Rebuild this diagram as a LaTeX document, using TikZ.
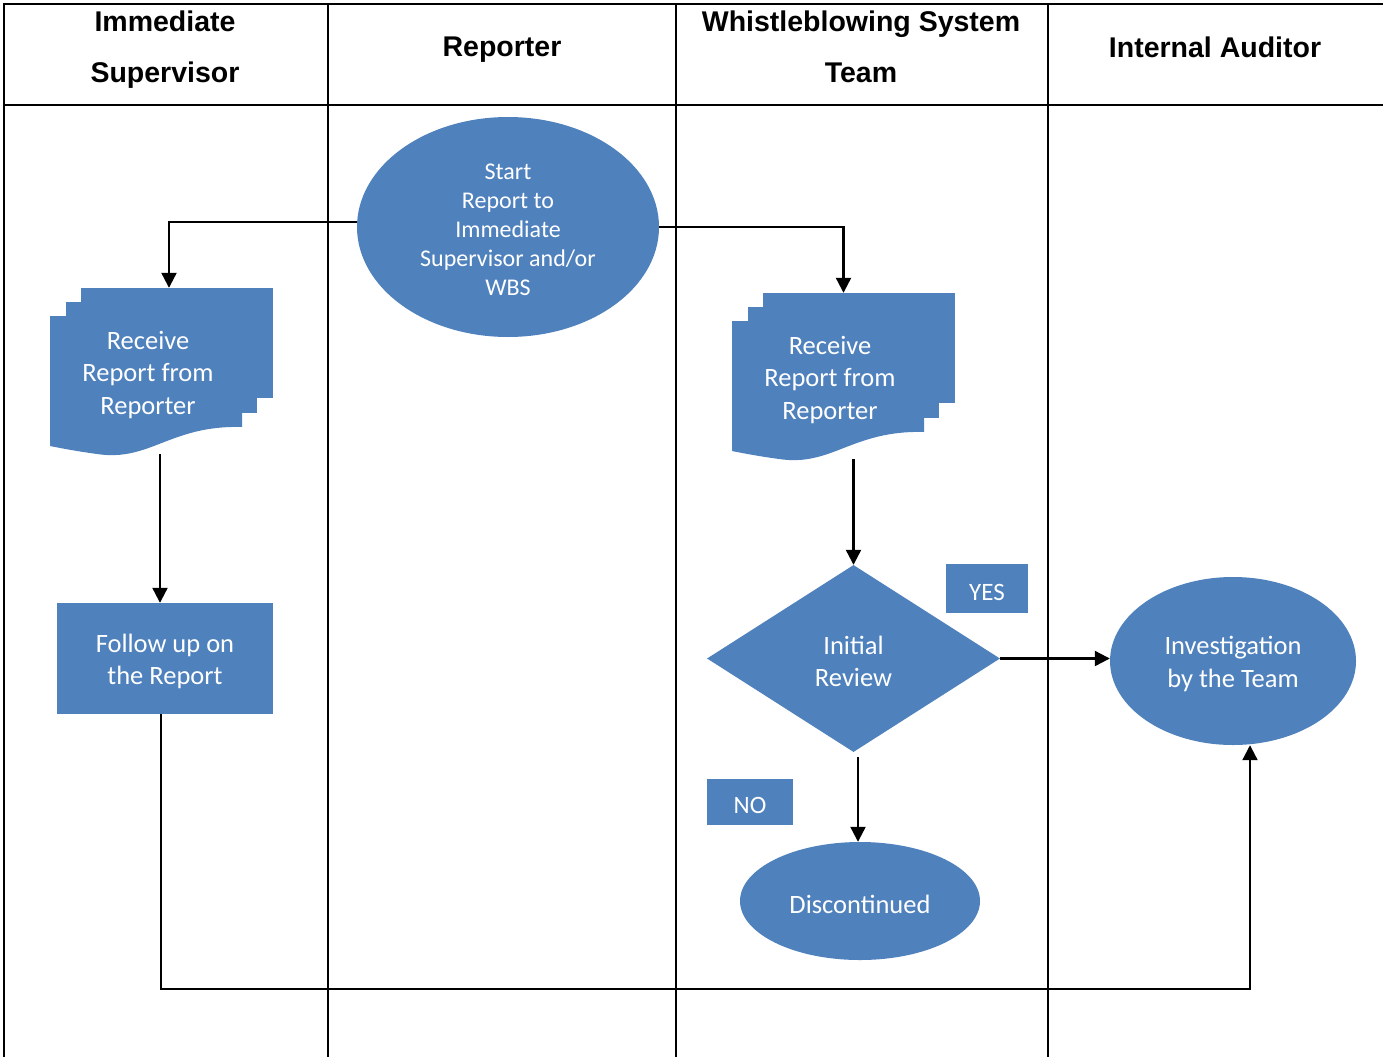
\documentclass[tikz,border=0pt]{standalone}
\usepackage{fontspec}
\setmainfont{Carlito}
\newfontfamily\hdrfont{Liberation Sans}
\usetikzlibrary{shapes.geometric,arrows.meta,backgrounds}
\definecolor{boxblue}{HTML}{4F81BD}
\begin{document}
\begin{tikzpicture}[x=1pt,y=-1pt,
  grid/.style={line width=2pt,black},
  hdr/.style={font=\hdrfont\bfseries\fontsize{28.5}{51}\selectfont,align=center,text=black},
  shapefill/.style={fill=boxblue,draw=none},
  body/.style={text=white,align=center,font=\fontsize{26.5}{32.5}\selectfont,yshift=-3pt},
  small/.style={text=white,align=center,font=\fontsize{24}{29}\selectfont,yshift=-3pt},
  tagtext/.style={text=white,font=\fontsize{25}{30}\selectfont,yshift=-3.5pt},
  conn/.style={line width=2.2pt,black,-{Triangle[length=15pt,width=15pt]}},
  tag/.style={shapefill,rectangle,inner sep=0pt}]
\useasboundingbox (0,0) rectangle (1383,1057);
% table
\draw[grid] (3,4) -- (1383,4);
\draw[line width=1.6pt] (4,105) -- (1383,105);
\foreach \xx in {4,328,676,1048} \draw[grid] (\xx,4) -- (\xx,1057);
% headers
\node[hdr] (h1) at (165,50) {Immediate\\Supervisor};
\node[hdr] (h2) at (502,50) {Reporter};
\node[hdr] (h3) at (861,47) {Whistleblowing System\\Team};
\node[hdr] (h4) at (1215,47) {Internal Auditor};
% start
\node[ellipse,shapefill,minimum width=302pt,minimum height=220pt,inner sep=0pt] (start) at (508,227) {};
\node[small] (starttext) at (start.center) {Start\\Report to\\Immediate\\Supervisor and/or\\WBS};
% left multidocument
\fill[boxblue] (81,288) rectangle (273,398);
\fill[boxblue] (66,302) rectangle (257,413);
\fill[boxblue] (50,316) -- (242,316) -- (242,427) .. controls (170,425) and (150,462) .. (97,454) .. controls (75,451) and (60,448) .. (50,446) -- cycle;
\node[minimum width=223pt,minimum height=166pt,inner sep=0pt] (ldoc) at (161.5,371) {};
\node[body] (ldoctext) at (148,372) {Receive\\Report from\\Reporter};
% right multidocument
\fill[boxblue] (763,293) rectangle (955,403);
\fill[boxblue] (748,307) rectangle (939,418);
\fill[boxblue] (732,321) -- (924,321) -- (924,432) .. controls (852,430) and (832,467) .. (779,459) .. controls (757,456) and (742,453) .. (732,451) -- cycle;
\node[minimum width=223pt,minimum height=166pt,inner sep=0pt] (rdoc) at (843.5,376) {};
\node[body] (rdoctext) at (830,377) {Receive\\Report from\\Reporter};
% follow up
\node[rectangle,shapefill,minimum width=216pt,minimum height=111pt,inner sep=0pt] (follow) at (165,658.5) {};
\node[body] (followtext) at (follow.center) {Follow up on\\the Report};
% diamond
\node[diamond,shapefill,minimum width=293pt,minimum height=187pt,aspect=1.567,inner sep=0pt] (dia) at (853.5,658.5) {};
\node[body] (diatext) at (dia.center) {Initial\\Review};
% tags
\node[tag,minimum width=82pt,minimum height=49pt] (yes) at (987,588.5) {};
\node[tagtext] (yestext) at (yes.center) {YES};
\node[tag,minimum width=86pt,minimum height=46pt] (no) at (750,802) {};
\node[tagtext] (notext) at (no.center) {NO};
% investigation
\node[ellipse,shapefill,minimum width=246pt,minimum height=168pt,inner sep=0pt] (inv) at (1233,661) {};
\node[body] (invtext) at (inv.center) {Investigation\\by the Team};
% discontinued
\node[ellipse,shapefill,minimum width=240pt,minimum height=118pt,inner sep=0pt] (disc) at (860,901) {};
\node[body] (disctext) at (disc.center) {Discontinued};
% connectors
\begin{pgfonlayer}{background}
\draw[conn] ([yshift=5pt]start.west) -| ([xshift=7.5pt]ldoc.north);
\draw[conn] (start.east) -| (rdoc.north);
\draw[conn] ([xshift=-1.5pt]ldoc.south) -- ([xshift=-1.5pt]ldoc.south |- follow.north);
\draw[conn] (dia.north |- rdoc.south) -- (dia.north);
\draw[conn] ([xshift=4.5pt,yshift=-5pt]dia.south) -- ([xshift=4.5pt]dia.south |- disc.north);
\draw[conn] (dia.east) -- (dia.east -| inv.west);
\draw[conn] ([xshift=-4pt]follow.south) -- ++(0,275) -| ([xshift=17pt]inv.south);
\end{pgfonlayer}
\end{tikzpicture}
\end{document}
